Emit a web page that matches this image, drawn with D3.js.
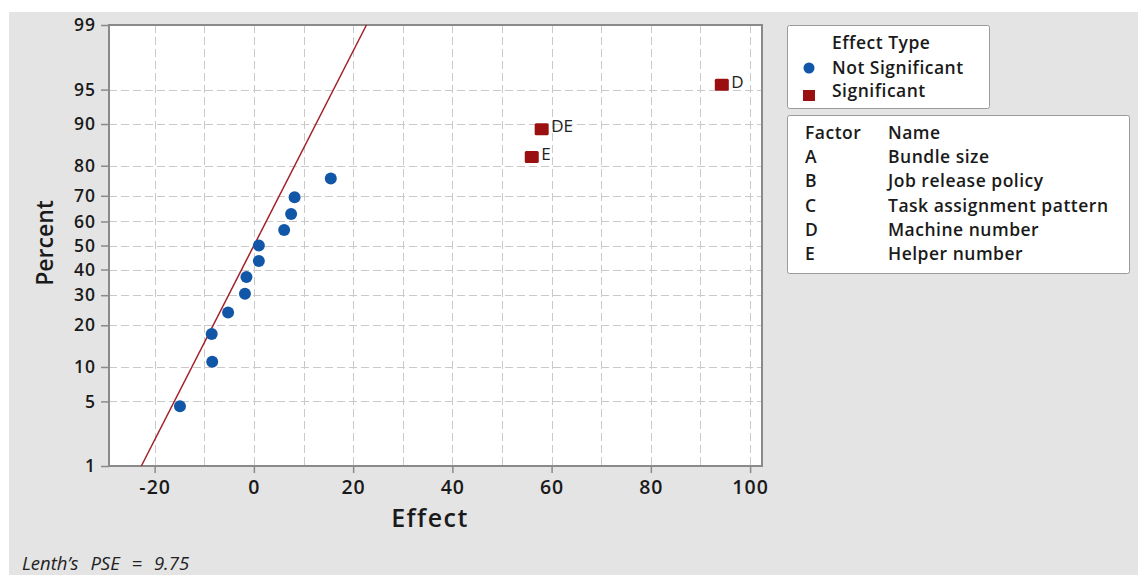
<!DOCTYPE html>
<html lang="en">

<head>
    <meta charset="UTF-8">
    <script src="https://cdn.jsdelivr.net/npm/d3@7/dist/d3.min.js"></script>
    <title>Normal plot of the effects</title>
    <style>
        body { margin: 0; background: #fff; }
        text { font-family: "Open Sans", "Noto Sans", sans-serif; }
        .leg { font-size: 17.5px; font-weight: 600; letter-spacing: 0.5px; fill: #1a1a1a; }
    </style>
</head>

<body>
    <svg id="main_svg" width="1138" height="575"></svg>
    <script>
        // data
        var terms = ["", "", "", "", "", "", "", "", "", "", "", "", "E", "DE", "D"];
        var effects = [-14.9, -8.4, -8.5, -5.2, -1.8, -1.5, 1.0, 1.0, 6.1, 7.5, 8.2, 15.5, 56.0, 58.0, 94.3];
        var percents = [4.5, 11.0, 17.5, 24.0, 30.5, 37.0, 43.5, 50.0, 56.5, 63.0, 69.5, 76.0, 82.5, 89.0, 95.5];
        var significant = [0, 0, 0, 0, 0, 0, 0, 0, 0, 0, 0, 0, 1, 1, 1];
        var xTicks = [-20, 0, 20, 40, 60, 80, 100];
        var xGrid = [-20, -10, 0, 10, 20, 30, 40, 50, 60, 70, 80, 90, 100];
        var yTicks = [1, 5, 10, 20, 30, 40, 50, 60, 70, 80, 90, 95, 99];
        var factors = ["A", "B", "C", "D", "E"];
        var factorNames = ["Bundle size", "Job release policy", "Task assignment pattern", "Machine number", "Helper number"];
        var lenthPSE = 9.75;

        // inverse normal cdf (Acklam)
        function probit(p) {
            var a = [-39.69683028665376, 220.9460984245205, -275.9285104469687, 138.3577518672690, -30.66479806614716, 2.506628277459239];
            var b = [-54.47609879822406, 161.5858368580409, -155.6989798598866, 66.80131188771972, -13.28068155288572];
            var c = [-0.007784894002430293, -0.3223964580411365, -2.400758277161838, -2.549732539343734, 4.374664141464968, 2.938163982698783];
            var d = [0.007784695709041462, 0.3224671290700398, 2.445134137142996, 3.754408661907416];
            var q, r;
            if (p < 0.02425) {
                q = Math.sqrt(-2 * Math.log(p));
                return (((((c[0] * q + c[1]) * q + c[2]) * q + c[3]) * q + c[4]) * q + c[5]) / ((((d[0] * q + d[1]) * q + d[2]) * q + d[3]) * q + 1);
            }
            if (p > 1 - 0.02425) {
                return -probit(1 - p);
            }
            q = p - 0.5;
            r = q * q;
            return (((((a[0] * r + a[1]) * r + a[2]) * r + a[3]) * r + a[4]) * r + a[5]) * q / (((((b[0] * r + b[1]) * r + b[2]) * r + b[3]) * r + b[4]) * r + 1);
        }

        var svg = d3.select("#main_svg");
        var L = 109, T = 25, R = 762, B = 466;

        // grey background
        svg.append("rect").attr("x", 9).attr("y", 12).attr("width", 1129).attr("height", 563).attr("fill", "#e4e4e4");
        svg.append("rect").attr("x", L).attr("y", T).attr("width", R - L).attr("height", B - T).attr("fill", "#fff");

        var x = d3.scaleLinear().domain([-29.2, 102.4]).range([L, R]);
        // y scale works on normal scores; percents go through probit first
        var y = d3.scaleLinear().domain([probit(0.01), probit(0.99)]).range([B, T]);
        var yp = function (p) { return y(probit(p / 100)); };

        // grid
        var grid = svg.append("g").attr("stroke", "#c9c9c9").attr("stroke-dasharray", "8,4").attr("stroke-width", 1);
        grid.selectAll(".vg").data(xGrid).enter().append("line")
            .attr("x1", function (d) { return Math.round(x(d)) + 0.5; })
            .attr("x2", function (d) { return Math.round(x(d)) + 0.5; })
            .attr("y1", T).attr("y2", B);
        grid.selectAll(".hg").data(yTicks.filter(function (d) { return d > 1 && d < 99; })).enter().append("line")
            .attr("y1", function (d) { return Math.round(yp(d)) + 0.5; })
            .attr("y2", function (d) { return Math.round(yp(d)) + 0.5; })
            .attr("x1", L).attr("x2", R);

        // axes
        var xAxis = d3.axisBottom(x).tickValues(xTicks).tickSize(7).tickPadding(3)
            .tickFormat(function (d) { return String(d); });
        var gx = svg.append("g").attr("transform", "translate(0," + B + ")").call(xAxis);
        var zTicks = yTicks.map(function (p) { return probit(p / 100); });
        var yAxis = d3.axisLeft(y).tickValues(zTicks).tickSize(8).tickPadding(5)
            .tickFormat(function (d, i) { return String(yTicks[i]); });
        var gy = svg.append("g").attr("transform", "translate(" + L + ",0)").call(yAxis);
        [gx, gy].forEach(function (g) {
            g.select(".domain").remove();
            g.selectAll(".tick line").attr("stroke", "#8a8a8a").attr("stroke-width", 1.5);
            g.selectAll(".tick text").attr("fill", "#1a1a1a").style("font-weight", 600)
                .style("font-family", "'Open Sans', sans-serif");
        });
        gx.selectAll(".tick text").attr("dy", "0.9em").style("font-size", "19.5px").style("letter-spacing", "1px");
        gy.selectAll(".tick text").style("font-size", "17.5px").style("letter-spacing", "1px");

        // frame
        svg.append("rect").attr("x", L).attr("y", T).attr("width", R - L).attr("height", B - T)
            .attr("fill", "none").attr("stroke", "#8a8a8a").attr("stroke-width", 2);

        // reference line from Lenth's PSE
        var zs = [probit(0.01), probit(0.99)];
        svg.append("line")
            .attr("x1", x(zs[0] * lenthPSE)).attr("y1", y(zs[0]))
            .attr("x2", x(zs[1] * lenthPSE)).attr("y2", y(zs[1]))
            .attr("stroke", "#a3202a").attr("stroke-width", 1.5);

        // points
        var pts = effects.map(function (e, i) { return { e: e, p: percents[i], s: significant[i], t: terms[i] }; });
        svg.selectAll(".dot").data(pts.filter(function (d) { return !d.s; })).enter().append("circle")
            .attr("cx", function (d) { return x(d.e); })
            .attr("cy", function (d) { return yp(d.p); })
            .attr("r", 6).attr("fill", "#1256a8");
        var sig = pts.filter(function (d) { return d.s; });
        svg.selectAll(".sq").data(sig).enter().append("rect")
            .attr("x", function (d) { return x(d.e) - 7; })
            .attr("y", function (d) { return yp(d.p) - 6; })
            .attr("width", 14).attr("height", 12).attr("rx", 1.5)
            .attr("fill", "#9a1010");
        svg.selectAll(".lbl").data(sig).enter().append("text")
            .attr("x", function (d) { return x(d.e) + 9.5; })
            .attr("y", function (d) { return yp(d.p) + 1; })
            .attr("dy", "0.1em")
            .style("font-size", "17px").attr("fill", "#222")
            .text(function (d) { return d.t; });

        // axis titles
        svg.append("text").attr("x", 430).attr("y", 527).attr("text-anchor", "middle")
            .style("font-size", "25px").style("font-weight", 600).style("letter-spacing", "1.5px")
            .attr("fill", "#1a1a1a").text("Effect");
        svg.append("text").attr("transform", "translate(53,243) rotate(-90)").attr("text-anchor", "middle")
            .style("font-size", "23px").style("font-weight", 600)
            .attr("fill", "#1a1a1a").text("Percent");

        svg.append("text").attr("x", 22).attr("y", 570)
            .style("font-size", "18.5px").style("font-style", "italic").style("word-spacing", "7px")
            .attr("fill", "#222")
            .text("Lenth’s PSE = " + lenthPSE);

        // legend: effect type
        var lg = svg.append("g");
        lg.append("rect").attr("x", 787.5).attr("y", 25.5).attr("width", 202).attr("height", 83).attr("rx", 2)
            .attr("fill", "#fff").attr("stroke", "#9a9a9a");
        lg.append("text").attr("class", "leg").attr("x", 832).attr("y", 49).text("Effect Type");
        lg.append("circle").attr("cx", 809).attr("cy", 68).attr("r", 5.5).attr("fill", "#1256a8");
        lg.append("text").attr("class", "leg").attr("x", 832).attr("y", 74).text("Not Significant");
        lg.append("rect").attr("x", 803).attr("y", 90).attr("width", 12).attr("height", 11).attr("fill", "#9a1010");
        lg.append("text").attr("class", "leg").attr("x", 832).attr("y", 96.5).text("Significant");

        // legend: factor table
        var ft = svg.append("g");
        ft.append("rect").attr("x", 787.5).attr("y", 115.5).attr("width", 342).attr("height", 158).attr("rx", 2)
            .attr("fill", "#fff").attr("stroke", "#9a9a9a");
        ft.append("text").attr("class", "leg").attr("x", 805).attr("y", 139).text("Factor");
        ft.append("text").attr("class", "leg").attr("x", 888).attr("y", 139).text("Name");
        factors.forEach(function (f, i) {
            var yy = 163 + i * 24.3;
            ft.append("text").attr("class", "leg").attr("x", 805).attr("y", yy).text(f);
            ft.append("text").attr("class", "leg").attr("x", 888).attr("y", yy).text(factorNames[i]);
        });
    </script>
</body>

</html>
